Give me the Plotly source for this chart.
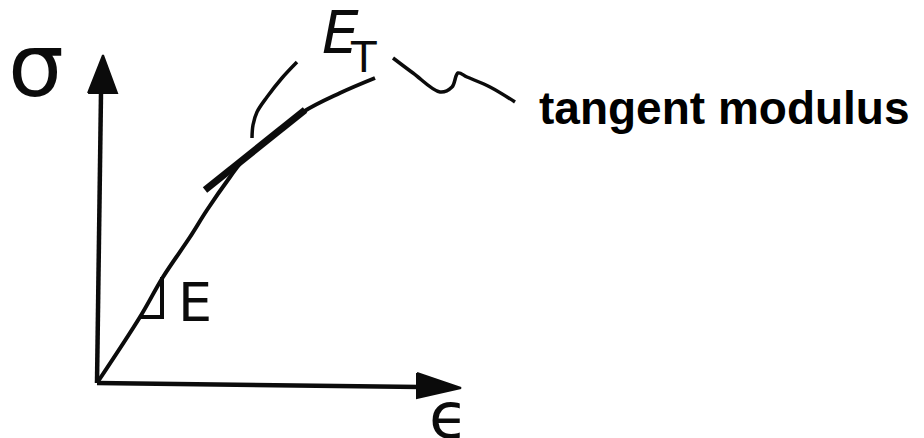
import plotly.graph_objects as go

INK = "#0b0b0b"

# Stress-strain curve (strain, stress) in sketch units, origin at the axes corner
strain = [0, 43, 66, 93, 110, 133, 146, 168, 206, 243, 278]
stress = [0, 66, 106, 146, 173, 206, 223, 241, 271, 290, 305]

# Tangent drawn along the upper part of the curve
tangent_strain = [108, 208]
tangent_stress = [193, 273]

# Slope triangle at the linear start
tri_strain = [43, 65, 65]
tri_stress = [66, 66, 106]

# Leader from the E_T label down to the tangent
lead_strain = [200, 185, 170, 160, 156, 155]
lead_stress = [321, 305, 286, 271, 258, 245]

# Squiggle pointing to the "tangent modulus" caption
sq_strain = [296, 316, 343, 355, 361, 370, 393, 418]
sq_stress = [325, 310, 291, 296, 310, 306, 296, 281]

# Axes and their arrowheads
y_axis_strain = [0, 4]
y_axis_stress = [0, 290]
y_head_strain = [-9, 6, 20, -9]
y_head_stress = [290, 328, 290, 290]
x_axis_strain = [0, 323]
x_axis_stress = [0, -4]
x_head_strain = [320, 364, 320, 320]
x_head_stress = [10, -5, -15, 10]

fig = go.Figure()


def stroke(xs, ys, width, shape="linear"):
    fig.add_trace(go.Scatter(
        x=xs, y=ys, mode="lines",
        line=dict(color=INK, width=width, shape=shape, smoothing=1.0),
        hoverinfo="skip", showlegend=False,
    ))


def head(xs, ys):
    fig.add_trace(go.Scatter(
        x=xs, y=ys, mode="lines", fill="toself", fillcolor=INK,
        line=dict(color=INK, width=2), hoverinfo="skip", showlegend=False,
    ))


stroke(y_axis_strain, y_axis_stress, 4.5)
head(y_head_strain, y_head_stress)
stroke(x_axis_strain, x_axis_stress, 4.5)
head(x_head_strain, x_head_stress)
stroke(strain, stress, 4, "spline")
stroke(tangent_strain, tangent_stress, 7)
stroke(tri_strain, tri_stress, 4)
stroke(lead_strain, lead_stress, 3.5, "spline")
stroke(sq_strain, sq_stress, 3.5, "spline")

hand = "DejaVu Sans"
fig.add_annotation(x=-61, y=318, text="σ", showarrow=False,
                   font=dict(family=hand, size=88, color=INK))
fig.add_annotation(x=98, y=81, text="E", showarrow=False,
                   font=dict(family=hand, size=54, color=INK))
fig.add_annotation(x=243, y=350, text="<i>E</i>", showarrow=False,
                   font=dict(family=hand, size=58, color=INK))
fig.add_annotation(x=266, y=326, text="T", showarrow=False,
                   font=dict(family=hand, size=42, color=INK))
fig.add_annotation(x=351, y=-33, text="ϵ", showarrow=False,
                   font=dict(family=hand, size=64, color=INK))
fig.add_annotation(x=440, y=275, text="<b>tangent modulus</b>", showarrow=False,
                   xanchor="left",
                   font=dict(family="Liberation Sans, Arial, sans-serif", size=46,
                             color="#000000"))

fig.update_xaxes(range=[-97, 827], visible=False, fixedrange=True)
fig.update_yaxes(range=[-55, 383], visible=False, fixedrange=True)
fig.update_layout(
    width=924, height=438, autosize=False,
    margin=dict(l=0, r=0, t=0, b=0),
    paper_bgcolor="white", plot_bgcolor="white",
    showlegend=False,
)

fig.write_html("out.html", config={"displayModeBar": False})
